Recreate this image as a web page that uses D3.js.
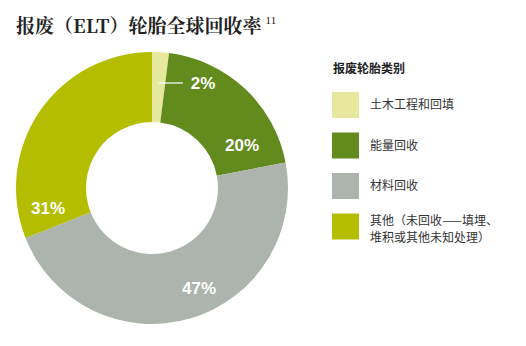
<!DOCTYPE html>
<html>
<head>
<meta charset="utf-8">
<script src="https://cdn.jsdelivr.net/npm/d3@7"></script>
<style>
  body { margin: 0; background: #fff; }
</style>
</head>
<body>
<div id="chart"></div>
<script>
// data
const categories = ["土木工程和回填", "能量回收", "材料回收", "其他（未回收——填埋、堆积或其他未知处理）"];
const shares = [2, 20, 47, 31];
const sliceLabels = ["2%", "20%", "47%", "31%"];
const legendLines = [["土木工程和回填"], ["能量回收"], ["材料回收"], ["其他（未回收——填埋、", "堆积或其他未知处理）"]];
const colors = ["#e6e89e", "#628a1c", "#acb4ad", "#b4bd00"];

const width = 526, height = 346;

const svg = d3.select("#chart").append("svg")
    .attr("width", width)
    .attr("height", height);

// title
const title = svg.append("text")
    .attr("x", 16)
    .attr("y", 33)
    .attr("font-family", "'Noto Serif CJK SC', 'Noto Sans CJK SC', serif")
    .attr("font-weight", "bold")
    .attr("font-size", 19)
    .attr("fill", "#222");
title.append("tspan").text("报废（ELT）轮胎全球回收率");
title.append("tspan")
    .attr("dx", 4)
    .attr("dy", -9)
    .attr("font-size", 11)
    .attr("font-weight", "normal")
    .attr("font-family", "'Liberation Serif', serif")
    .text("11");

// donut
const cx = 152, cy = 188;
const outerR = 136, innerR = 66;

const pie = d3.pie().sort(null).value(d => d);
const arcs = pie(shares);
const arc = d3.arc().innerRadius(innerR).outerRadius(outerR);

const g = svg.append("g").attr("transform", `translate(${cx},${cy})`);

g.selectAll("path")
    .data(arcs)
    .join("path")
    .attr("d", arc)
    .attr("fill", (d, i) => colors[i]);

// label positions, tweaked by hand to sit like the original
const labelPos = [[51, -105], [90, -43], [47, 100], [-104, 20]];

// leader line for the tiny slice
const a0 = (arcs[0].startAngle + arcs[0].endAngle) / 2;
g.append("line")
    .attr("x1", Math.sin(a0) * 109)
    .attr("y1", -105)
    .attr("x2", 31)
    .attr("y2", -105)
    .attr("stroke", "#fff")
    .attr("stroke-width", 1.2);

g.selectAll("text.lbl")
    .data(arcs)
    .join("text")
    .attr("class", "lbl")
    .attr("x", (d, i) => labelPos[i][0])
    .attr("y", (d, i) => labelPos[i][1])
    .attr("dy", "0.36em")
    .attr("text-anchor", "middle")
    .attr("font-family", "'Liberation Sans', Arial, sans-serif")
    .attr("font-weight", "bold")
    .attr("font-size", 17)
    .attr("fill", "#fff")
    .text((d, i) => sliceLabels[i]);

// legend
const legend = svg.append("g").attr("transform", "translate(332,0)");

legend.append("text")
    .attr("x", 1)
    .attr("y", 73)
    .attr("font-family", "'Noto Sans CJK SC', sans-serif")
    .attr("font-weight", "bold")
    .attr("font-size", 12)
    .attr("fill", "#222")
    .text("报废轮胎类别");

const item = legend.selectAll("g.item")
    .data(categories)
    .join("g")
    .attr("class", "item")
    .attr("transform", (d, i) => `translate(0,${92 + i * 40.5})`);

item.append("rect")
    .attr("width", 27)
    .attr("height", 26)
    .attr("fill", (d, i) => colors[i]);

// each legend line is its own element; the wrapped entry gets a bit more room
item.each(function(d, i) {
    const lines = legendLines[i];
    const y0 = lines.length === 1 ? 17 : 11;
    lines.forEach((s, k) => {
        d3.select(this).append("text")
            .attr("x", 38)
            .attr("y", y0 + k * 17.5)
            .attr("font-family", "'Noto Sans CJK SC', sans-serif")
            .attr("font-size", 12)
            .attr("fill", "#333")
            .text(s);
    });
});
</script>
</body>
</html>
